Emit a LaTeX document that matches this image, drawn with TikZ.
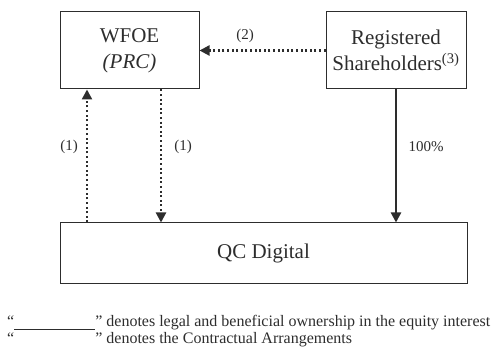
\documentclass[tikz,border=0pt]{standalone}
\usepackage{fontspec}
\setmainfont{Liberation Serif}
\usetikzlibrary{arrows.meta}
\definecolor{ink}{RGB}{45,45,45}

\tikzset{
  entity/.style={draw=ink, line width=1pt, text=ink, align=center,
    font=\fontsize{21}{26}\selectfont, inner sep=0pt},
  contract/.style={draw=ink, line width=2.2pt, dash pattern=on 2pt off 2.6pt,
    -{Triangle[length=10pt,width=10pt]}},
  owns/.style={draw=ink, line width=2.2pt, -{Triangle[length=10pt,width=10pt]}},
  lbl/.style={text=ink, font=\fontsize{15}{18}\selectfont, inner sep=0pt},
  legend/.style={text=ink, font=\fontsize{16}{19}\selectfont, inner sep=0pt, anchor=base west}
}

\begin{document}
\begin{tikzpicture}[x=1pt,y=-1pt]
\useasboundingbox (0,0) rectangle (493,347);

% Boxes
\node[entity, minimum width=139pt, minimum height=77pt] (wfoe) at (129.5,50.5) {WFOE\\\textit{(PRC)}};
\node[entity, minimum width=140pt, minimum height=77pt] (reg) at (396,50.5) {Registered\\Shareholders\textsuperscript{(3)}};
\node[entity, minimum width=407pt, minimum height=61pt] (qc) at (263.5,253.5) {QC Digital};

% Arrow positions on WFOE
\coordinate (up) at ([xshift=-42.5pt]wfoe.south);
\coordinate (down) at ([xshift=31.5pt]wfoe.south);

% Contractual arrangements
\draw[contract] (up |- qc.north) -- (up);
\draw[contract] (down) -- (down |- qc.north);
\draw[contract] (reg.west) -- (wfoe.east);

% Ownership
\draw[owns] (reg.south) -- (reg.south |- qc.north);

% Labels
\node[lbl] (one-a) at (69,147) {(1)};
\node[lbl] (one-b) at (183,147) {(1)};
\node[lbl] (two) at (245,36) {(2)};
\node[lbl] (pct) at (426,147) {100\%};

% Legend
\node[legend] (leg-own) at (7,327) {“\rule[-2.5pt]{81pt}{0.9pt}” denotes legal and beneficial ownership in the equity interest};
\node[legend] (leg-con) at (7,344) {“\hspace{81pt}” denotes the Contractual Arrangements};
\end{tikzpicture}
\end{document}
